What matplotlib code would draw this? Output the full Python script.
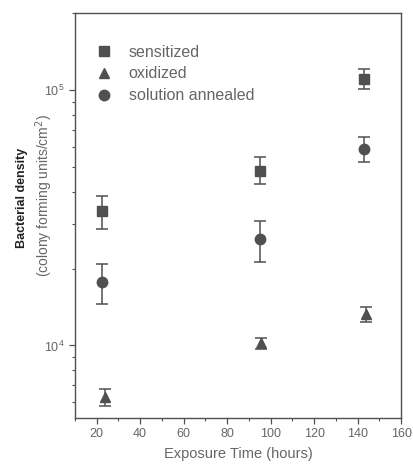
import matplotlib
matplotlib.use("Agg")
import matplotlib.pyplot as plt
from matplotlib.ticker import LogLocator, NullFormatter, MultipleLocator

plt.rcParams['font.family'] = ['Liberation Sans', 'DejaVu Sans']

# Data
series = ["sensitized", "oxidized", "solution annealed"]
sens_x = [22.5, 95.3, 142.8]
sens_y = [3.35e4, 4.81e4, 1.10e5]
sens_lo = [2.85e4, 4.28e4, 1.01e5]
sens_hi = [3.84e4, 5.46e4, 1.21e5]

oxi_x = [24.0, 95.5, 143.7]
oxi_y = [6.3e3, 1.02e4, 1.33e4]
oxi_lo = [5.82e3, 9.7e3, 1.24e4]
oxi_hi = [6.78e3, 1.07e4, 1.42e4]

ann_x = [22.5, 95.0, 143.0]
ann_y = [1.77e4, 2.60e4, 5.87e4]
ann_lo = [1.45e4, 2.13e4, 5.22e4]
ann_hi = [2.09e4, 3.06e4, 6.55e4]

x_ticks = [20, 40, 60, 80, 100, 120, 140, 160]

gray = "#505050"
textgray = "#666666"

fig = plt.figure(figsize=(4.14, 4.65), dpi=100)
ax = fig.add_axes([0.181, 0.101, 0.788, 0.871])

def err(y, lo, hi):
    return [[a - b for a, b in zip(y, lo)], [c - a for a, c in zip(y, hi)]]

kw = dict(linestyle='none', color=gray, ecolor=gray, elinewidth=1.1, capsize=4.3, capthick=1.1)
c1 = ax.errorbar(sens_x, sens_y, yerr=err(sens_y, sens_lo, sens_hi), marker='s', markersize=6.5, label=series[0], **kw)
c2 = ax.errorbar(oxi_x, oxi_y, yerr=err(oxi_y, oxi_lo, oxi_hi), marker='^', markersize=7.5, label=series[1], **kw)
c3 = ax.errorbar(ann_x, ann_y, yerr=err(ann_y, ann_lo, ann_hi), marker='o', markersize=7.5, label=series[2], **kw)

ax.set_yscale('log')
ax.set_xlim(10, 160)
ax.set_ylim(5.2e3, 2.0e5)
ax.set_xticks(x_ticks)
ax.xaxis.set_minor_locator(MultipleLocator(10))
ax.yaxis.set_major_locator(LogLocator(base=10))
ax.yaxis.set_minor_locator(LogLocator(base=10, subs=range(2, 10)))
ax.yaxis.set_minor_formatter(NullFormatter())

for s in ax.spines.values():
    s.set_color(gray)
    s.set_linewidth(1.0)

ax.tick_params(axis='both', which='major', direction='out', length=4, width=0.9, color=gray,
               labelsize=9, labelcolor=textgray)
ax.tick_params(axis='both', which='minor', direction='out', length=2.5, width=0.8, color=gray)
ax.tick_params(axis='x', which='both', top=False)
ax.tick_params(axis='y', which='both', right=False)

ax.set_xlabel("Exposure Time (hours)", fontsize=10.5, color=textgray, labelpad=5)

fig.text(0.053, 0.575, "Bacterial density", rotation=90, ha='center', va='center',
         fontsize=9, fontweight='bold', color='#222222')
fig.text(0.106, 0.58, "(colony forming units/cm$^2$)", rotation=90, ha='center', va='center',
         fontsize=10, color=textgray)

handles = [c1[0], c2[0], c3[0]]
leg = ax.legend(handles, series, loc='upper left', bbox_to_anchor=(0.064, 0.922), frameon=False,
                fontsize=11.5, handlelength=1.0, handletextpad=1.05, labelspacing=0.43,
                borderaxespad=0.0, borderpad=0.0)
for t in leg.get_texts():
    t.set_color(textgray)

fig.savefig("out.png", dpi=100)
